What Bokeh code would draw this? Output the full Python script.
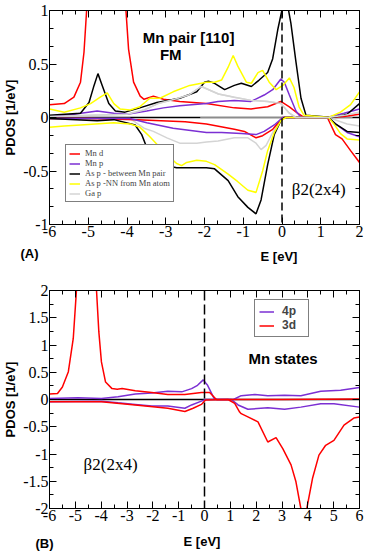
import numpy as np
from bokeh.plotting import figure
from bokeh.models import Range1d, FixedTicker, LinearAxis, Label, Span, CustomJSTickFormatter
from bokeh.layouts import column
from bokeh.embed import file_html
from bokeh.resources import INLINE

# ---------------- Panel A data (E in eV, PDOS in 1/eV) ----------------
mnd_up_E = [-6.0, -5.62, -5.37, -5.2, -5.11, -5.03, -4.9, -4.6, -4.3, -4.1, -4.04, -3.96, -3.83, -3.66, -3.56,
            -3.32, -3.06, -2.64, -1.95, -1.23, -0.8, -0.37, -0.03, 0.19, 0.4, 0.57, 1.17, 1.6, 2.0]
mnd_up_v = [0.12, 0.13, 0.19, 0.33, 0.61, 1.07, 2.0, 3.2, 2.0, 1.2, 1.07, 0.64, 0.33, 0.2, 0.17,
            0.2, 0.17, 0.15, 0.13, 0.09, 0.08, 0.1, 0.15, 0.1, 0.04, 0.0, 0.0, 0.01, 0.03]
mnd_dn_E = [-6.0, -5.0, -3.74, -2.5, -1.95, -1.23, -0.97, -0.67, -0.5, -0.24, 0.02, 1.17, 1.38, 1.55, 1.77, 2.0]
mnd_dn_v = [-0.01, -0.01, -0.02, -0.04, -0.06, -0.11, -0.13, -0.19, -0.17, -0.11, 0.0, 0.0, -0.16, -0.2, -0.31, -0.42]

mnp_up_E = [-6.0, -5.37, -4.77, -4.34, -4.0, -3.49, -3.06, -2.64, -1.95, -1.65, -1.23, -0.8, -0.46, -0.24,
            -0.03, 0.06, 0.19, 0.36, 0.49, 1.17, 1.6, 2.0]
mnp_up_v = [0.01, 0.03, 0.06, 0.04, 0.03, 0.06, 0.09, 0.11, 0.13, 0.15, 0.16, 0.15, 0.21, 0.26,
            0.36, 0.33, 0.21, 0.06, 0.0, 0.0, 0.04, 0.08]
mnp_dn_E = [-6.0, -3.92, -3.49, -2.81, -1.95, -1.56, -1.05, -0.67, -0.46, -0.2, 0.02, 1.17, 1.42, 1.68, 2.0]
mnp_dn_v = [-0.01, -0.01, -0.05, -0.1, -0.14, -0.14, -0.15, -0.16, -0.13, -0.07, 0.0, 0.0, -0.07, -0.14, -0.18]

asb_up_E = [-6.0, -5.2, -4.98, -4.85, -4.75, -4.64, -4.47, -4.3, -4.05, -3.67, -3.23, -2.64, -2.2, -2.0, -1.9,
            -1.74, -1.48, -1.23, -1.05, -0.79, -0.59, -0.37, -0.24, -0.11, 0.02, 0.12, 0.23, 0.36, 0.49, 0.62,
            1.3, 1.68, 2.0]
asb_up_v = [0.02, 0.04, 0.14, 0.3, 0.41, 0.3, 0.13, 0.06, 0.05, 0.09, 0.14, 0.18, 0.24, 0.33, 0.34,
            0.32, 0.26, 0.3, 0.32, 0.29, 0.35, 0.42, 0.55, 0.82, 1.04, 1.1, 0.88, 0.52, 0.18, 0.02,
            0.0, 0.03, 0.13]
asb_dn_E = [-6.0, -4.77, -4.34, -3.79, -3.62, -3.49, -3.23, -2.97, -2.72, -2.46, -1.95, -1.74, -1.39, -1.14,
            -0.88, -0.67, -0.54, -0.37, -0.2, -0.03, 0.06, 1.2, 1.38, 1.68, 2.0]
asb_dn_v = [-0.01, -0.03, -0.02, -0.07, -0.16, -0.28, -0.41, -0.45, -0.47, -0.47, -0.47, -0.48, -0.59, -0.74,
            -0.84, -0.9, -0.77, -0.44, -0.16, -0.03, 0.0, 0.0, -0.06, -0.13, -0.14]

asn_up_E = [-6.0, -5.62, -5.2, -4.94, -4.69, -4.51, -4.34, -4.18, -3.92, -3.67, -3.41, -3.15, -2.81, -2.38,
            -1.95, -1.74, -1.56, -1.39, -1.26, -1.14, -0.92, -0.79, -0.62, -0.5, -0.33, -0.15, 0.02, 0.19,
            0.31, 0.44, 0.57, 1.2, 1.51, 1.77, 2.0]
asn_up_v = [0.08, 0.05, 0.09, 0.13, 0.19, 0.23, 0.13, 0.08, 0.07, 0.1, 0.18, 0.18, 0.24, 0.3,
            0.33, 0.33, 0.35, 0.47, 0.58, 0.48, 0.33, 0.32, 0.42, 0.44, 0.33, 0.26, 0.3, 0.37,
            0.28, 0.1, 0.02, 0.0, 0.05, 0.12, 0.24]
asn_dn_E = [-6.0, -5.62, -5.2, -4.34, -3.92, -3.67, -3.41, -3.15, -2.9, -2.72, -2.59, -2.46, -2.2, -1.95,
            -1.74, -1.39, -1.14, -0.88, -0.67, -0.5, -0.37, -0.2, -0.03, 0.1, 1.2, 1.34, 1.51, 1.68, 2.0]
asn_dn_v = [-0.09, -0.08, -0.07, -0.05, -0.06, -0.09, -0.18, -0.28, -0.37, -0.43, -0.45, -0.42, -0.4, -0.41,
            -0.44, -0.53, -0.6, -0.68, -0.7, -0.5, -0.31, -0.14, -0.03, 0.0, 0.0, -0.06, -0.15, -0.2, -0.21]

gap_up_E = [-6.0, -4.0, -3.56, -3.2, -2.77, -2.41, -2.08, -1.64, -1.23, -0.8, -0.37, -0.03, 0.19, 0.36,
            1.2, 1.6, 2.0]
gap_up_v = [0.01, 0.03, 0.07, 0.13, 0.17, 0.21, 0.29, 0.22, 0.19, 0.16, 0.15, 0.13, 0.04, 0.0,
            0.0, 0.02, 0.05]
gap_dn_E = [-6.0, -3.92, -3.56, -3.32, -2.97, -2.64, -2.2, -1.95, -1.65, -1.23, -0.88, -0.67, -0.54, -0.41,
            -0.24, -0.03, 0.05, 1.2, 1.68, 2.0]
gap_dn_v = [-0.01, -0.01, -0.1, -0.13, -0.19, -0.24, -0.24, -0.23, -0.22, -0.19, -0.19, -0.24, -0.3, -0.26,
            -0.14, -0.03, 0.0, 0.0, -0.06, -0.08]

zeroA_black_E = [-6.0, -2.1]
zeroA_gray_E = [-2.1, 2.0]

legend_A = ["Mn d", "Mn p", "As p - between Mn pair", "As p -NN from Mn atom", "Ga p"]

xticks_A = [-6, -5, -4, -3, -2, -1, 0, 1, 2]
xtick_labels_A = ["-6", "-5", "-4", "-3", "-2", "-1", "0", "1", "2"]
yticks_A = [-1.0, -0.5, 0.0, 0.5, 1.0]
ytick_labels_A = ["-1", "-0.5", "0", "0.5", "1"]

# ---------------- Panel B data ----------------
d3_up_E = [-6.0, -5.69, -5.5, -5.27, -5.08, -4.96, -4.8, -4.57, -4.35, -4.18, -4.09, -3.99, -3.83, -3.58,
           -3.38, -3.19, -2.68, -2.04, -1.42, -0.76, -0.12, 0.2, 0.46, 3.0, 6.0]
d3_up_v = [0.1, 0.11, 0.23, 0.51, 1.12, 1.98, 3.5, 5.0, 3.5, 2.0, 1.24, 0.69, 0.32, 0.2,
           0.19, 0.2, 0.16, 0.13, 0.09, 0.09, 0.13, 0.13, 0.0, 0.0, 0.01]
d3_dn_E = [-6.0, -3.99, -2.68, -1.42, -0.76, -0.44, -0.12, 0.04, 0.91, 1.17, 1.36, 1.42, 1.68, 2.07, 2.45,
           2.77, 3.03, 3.35, 3.54, 3.73, 3.85, 3.96, 4.18, 4.43, 4.69, 5.01, 5.4, 5.78, 6.0]
d3_dn_v = [-0.04, -0.04, -0.1, -0.16, -0.22, -0.16, -0.09, -0.01, 0.0, -0.07, -0.23, -0.26, -0.32, -0.41, -0.78,
           -0.7, -0.9, -1.2, -1.51, -2.0, -2.5, -2.0, -1.45, -1.02, -0.84, -0.75, -0.47, -0.34, -0.32]

p4_up_E = [-6.0, -4.9, -3.99, -3.35, -2.68, -2.04, -1.42, -0.88, -0.5, -0.27, -0.05, 0.12, 0.37, 0.5,
           1.12, 1.42, 1.95, 2.45, 3.1, 3.73, 4.5, 5.27, 6.0]
p4_up_v = [0.02, 0.03, 0.02, 0.05, 0.1, 0.12, 0.15, 0.14, 0.2, 0.26, 0.36, 0.26, 0.02, 0.0,
           0.0, 0.07, 0.09, 0.07, 0.08, 0.07, 0.15, 0.17, 0.22]
p4_dn_E = [-6.0, -3.99, -3.35, -2.68, -2.04, -1.42, -0.76, -0.5, -0.12, 0.04, 1.04, 1.3, 1.68, 2.45, 3.1,
           3.73, 4.5, 5.01, 6.0]
p4_dn_v = [-0.04, -0.03, -0.06, -0.09, -0.12, -0.12, -0.16, -0.1, -0.03, 0.0, 0.0, -0.1, -0.18, -0.15, -0.18,
           -0.14, -0.08, -0.08, -0.14]

zeroB_E = [-6.0, 6.0]
legend_B = ["4p", "3d"]

xticks_B = [-6, -5, -4, -3, -2, -1, 0, 1, 2, 3, 4, 5, 6]
xtick_labels_B = ["-6", "-5", "-4", "-3", "-2", "-1", "0", "1", "2", "3", "4", "5", "6"]
yticks_B = [-2.0, -1.5, -1.0, -0.5, 0.0, 0.5, 1.0, 1.5, 2.0]
ytick_labels_B = ["-2", "-1.5", "-1", "-0.5", "0", "0.5", "1", "1.5", "2"]

fermi = 0.0
ylabel = "PDOS [1/eV]"
xlabel = "E [eV]"

RED = "#ff0000"
PURPLE = "#7b2fd3"
YELLOW = "#ffff00"
GRAY = "#d4d4d4"
SERIF = "Liberation Serif"
SANS = "Liberation Sans"
W = 374


def minor(ticks, n):
    out = []
    for a, b in zip(ticks[:-1], ticks[1:]):
        for k in range(1, n):
            out.append(a + (b - a) * k / n)
    return out


def style_axis(ax, ticker, overrides, show):
    ax.ticker = ticker
    ax.axis_line_color = "black"
    ax.axis_line_width = 1
    ax.major_tick_in = 7
    ax.major_tick_out = 0
    ax.minor_tick_in = 4
    ax.minor_tick_out = 0
    ax.major_tick_line_color = "black"
    ax.minor_tick_line_color = "black"
    if show:
        ax.major_label_overrides = overrides
        ax.major_label_text_font = SERIF
        ax.major_label_text_font_size = "16px"
        ax.major_label_text_color = "black"
        ax.major_label_standoff = 1
    else:
        ax.formatter = CustomJSTickFormatter(code="return ''")
        ax.major_label_text_font_size = "0px"
        ax.major_label_standoff = 0


def make_fig(h, top, bottom, xr, yr, xt, xl, yt, yl, nxm, nym):
    p = figure(width=W, height=h, x_range=Range1d(*xr), y_range=Range1d(*yr),
               output_backend="svg", toolbar_location=None,
               min_border_left=47, min_border_right=15, min_border_top=top, min_border_bottom=bottom)
    p.xgrid.visible = False
    p.ygrid.visible = False
    p.outline_line_color = "black"
    p.outline_line_width = 1
    xtick = FixedTicker(ticks=xt, minor_ticks=minor(xt, nxm))
    ytick = FixedTicker(ticks=yt, minor_ticks=minor(yt, nym))
    xo = {float(t): s for t, s in zip(xt, xl)}
    yo = {float(t): s for t, s in zip(yt, yl)}
    style_axis(p.xaxis[0], xtick, xo, True)
    style_axis(p.yaxis[0], ytick, yo, True)
    ya = p.yaxis[0]
    ya.axis_label = ylabel
    ya.axis_label_text_font = SANS
    ya.axis_label_text_font_style = "bold"
    ya.axis_label_text_font_size = "13px"
    ya.axis_label_text_color = "black"
    ya.axis_label_standoff = 2
    ta = LinearAxis()
    style_axis(ta, FixedTicker(ticks=xt, minor_ticks=minor(xt, nxm)), xo, False)
    p.add_layout(ta, "above")
    ra = LinearAxis()
    style_axis(ra, FixedTicker(ticks=yt, minor_ticks=minor(yt, nym)), yo, False)
    p.add_layout(ra, "right")
    return p


def strip(top, bottom):
    s = figure(width=W, height=bottom - top, x_range=Range1d(0, W), y_range=Range1d(bottom, top),
               x_axis_type=None, y_axis_type=None, output_backend="svg", toolbar_location=None,
               min_border_left=0, min_border_right=0, min_border_top=0, min_border_bottom=0)
    if "frame_align" in s.properties():
        s.frame_align = False
    s.outline_line_color = None
    s.grid.visible = False
    return s


def add_label(p, xy, text, font, size, bold=False):
    x, y = xy
    p.add_layout(Label(x=x, y=y, text=text, text_font=font, text_font_size=size,
                       text_font_style="bold" if bold else "normal", text_color="black",
                       text_align="center", text_baseline="middle"))


# reference pixel -> data helpers (panel frames in the reference picture)
def A(px, py):
    return -6 + (px - 47) / 39.0, 1 - (py - 7) / 108.5


def B(px, py):
    return -6 + (px - 47) / 26.0, 2 - (py - 290) / 54.5


# ---------------- Panel A ----------------
pA = make_fig(245, 10, 21, (-6, 2), (-1, 1), xticks_A, xtick_labels_A, yticks_A, ytick_labels_A, 3, 3)
LW = 1.5
pA.line(zeroA_black_E, [0.0, 0.0], line_color="black", line_width=1.5)
pA.line(zeroA_gray_E, [0.0, 0.0], line_color="#8c8c8c", line_width=2)
pA.line(gap_up_E, gap_up_v, line_color=GRAY, line_width=LW)
pA.line(gap_dn_E, gap_dn_v, line_color=GRAY, line_width=LW)
pA.line(mnd_up_E, mnd_up_v, line_color=RED, line_width=LW, legend_label=legend_A[0])
pA.line(mnd_dn_E, mnd_dn_v, line_color=RED, line_width=LW)
pA.line(mnp_up_E, mnp_up_v, line_color=PURPLE, line_width=LW, legend_label=legend_A[1])
pA.line(mnp_dn_E, mnp_dn_v, line_color=PURPLE, line_width=LW)
pA.line(asb_up_E, asb_up_v, line_color="black", line_width=LW, legend_label=legend_A[2])
pA.line(asb_dn_E, asb_dn_v, line_color="black", line_width=LW)
pA.line(asn_up_E, asn_up_v, line_color=YELLOW, line_width=LW, legend_label=legend_A[3])
pA.line(asn_dn_E, asn_dn_v, line_color=YELLOW, line_width=LW)
pA.line(gap_up_E, gap_up_v, line_color=GRAY, line_width=LW, legend_label=legend_A[4])
pA.add_layout(Span(location=fermi, dimension="height", line_color="black", line_width=1.5, line_dash="8 4"))

lg = pA.legend[0]
lg.location = (16, 22)
lg.label_text_font = SERIF
lg.label_text_font_size = "8.5px"
lg.label_height = 9
lg.glyph_height = 9
lg.glyph_width = 11
lg.label_standoff = 5
lg.spacing = 0
lg.padding = 3
lg.margin = 0
lg.border_line_color = "black"
lg.border_line_width = 1
lg.background_fill_alpha = 1.0

add_label(pA, A(187, 34), "Mn pair [110]", SANS, "15px", True)
add_label(pA, A(169, 52), "FM", SANS, "15px", True)
add_label(pA, A(318, 189), "β2(2x4)", SERIF, "17px")

sA = strip(245, 280)
add_label(sA, (29, 253), "(A)", SANS, "13px", True)
add_label(sA, (278.5, 256), xlabel, SANS, "13px", True)

# ---------------- Panel B ----------------
pB = make_fig(249, 10, 21, (-6, 6), (-2, 2), xticks_B, xtick_labels_B, yticks_B, ytick_labels_B, 2, 2)
pB.line(zeroB_E, [0.0, 0.0], line_color="black", line_width=1.5)
pB.line(p4_up_E, p4_up_v, line_color=PURPLE, line_width=LW, legend_label=legend_B[0])
pB.line(p4_dn_E, p4_dn_v, line_color=PURPLE, line_width=LW)
pB.line(d3_up_E, d3_up_v, line_color=RED, line_width=LW, legend_label=legend_B[1])
pB.line(d3_dn_E, d3_dn_v, line_color=RED, line_width=LW)
pB.add_layout(Span(location=fermi, dimension="height", line_color="black", line_width=1.5, line_dash="10 4"))

lb = pB.legend[0]
lb.location = (205, 171)
lb.label_text_font = SANS
lb.label_text_font_style = "bold"
lb.label_text_font_size = "12px"
lb.label_height = 13
lb.glyph_height = 13
lb.glyph_width = 15
lb.label_width = 22
lb.label_standoff = 8
lb.spacing = 0
lb.padding = 4
lb.margin = 0
lb.border_line_color = "black"
lb.border_line_width = 1.5
lb.background_fill_alpha = 1.0

add_label(pB, B(282, 358), "Mn states", SANS, "15px", True)
add_label(pB, B(108.5, 464), "β2(2x4)", SERIF, "17px")

sB = strip(529, 559)
add_label(sB, (44, 543), "(B)", SANS, "13px", True)
add_label(sB, (201.5, 541), xlabel, SANS, "13px", True)

layout = column(pA, sA, pB, sB)
open("out.html", "w").write(file_html(layout, INLINE))
